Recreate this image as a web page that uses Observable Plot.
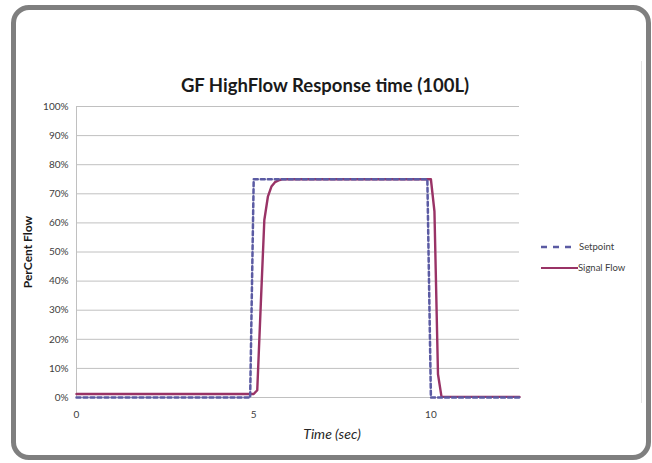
<!DOCTYPE html>
<html>
<head>
<meta charset="utf-8">
<script src="https://cdn.jsdelivr.net/npm/d3@7"></script>
<script src="https://cdn.jsdelivr.net/npm/@observablehq/plot@0.6"></script>
<style>
  html, body { margin: 0; padding: 0; background: #ffffff; }
  #wrap { position: relative; width: 652px; height: 463px; overflow: hidden; font-family: Lato, "Open Sans", sans-serif; }
  #frame { position: absolute; left: 11px; top: 5px; width: 630px; height: 445px; border: 5px solid #7f7f7f; border-radius: 18px; background: #fff; }
  #inner { position: absolute; left: 641px; top: 61px; width: 1px; height: 342px; background: #e4e4e4; }
  #chart { position: absolute; left: 0; top: 0; }
  .leg { position: absolute; font-size: 9.5px; color: #404040; line-height: 12px; white-space: nowrap; }
  .leg svg { position: absolute; left: 0; top: 0; }
</style>
</head>
<body>
<div id="wrap">
  <div id="frame"></div>
  <div id="inner"></div>
  <div id="chart"></div>
  <div class="leg" style="left:540px; top:241px;"><svg width="36" height="12"><line x1="1" x2="33" y1="6" y2="6" stroke="#5b5ba3" stroke-width="2.5" stroke-dasharray="6,6"/></svg><span style="margin-left:39px">Setpoint</span></div>
  <div class="leg" style="left:541px; top:262px;"><svg width="38" height="12"><line x1="0" x2="37" y1="6" y2="6" stroke="#993366" stroke-width="2"/></svg><span style="margin-left:37px">Signal Flow</span></div>
</div>
<script>
// Setpoint series (time in seconds, percent flow)
const setpointTime  = [0, 4.9, 5.0, 9.9, 10.0, 12.5];
const setpointValue = [0, 0, 75, 75, 0, 0];

// Signal Flow series
const signalTime  = [0, 5.0, 5.1, 5.2, 5.3, 5.4, 5.5, 5.6, 5.7, 5.8, 10.0, 10.1, 10.2, 10.3, 12.5];
const signalValue = [1.2, 1.2, 2.5, 32, 61, 69, 72.5, 74, 74.6, 75, 75, 64, 8, 0.2, 0.2];

// Axis ticks
const xTicks = [0, 5, 10];
const yTicks = [0, 10, 20, 30, 40, 50, 60, 70, 80, 90, 100];

const setpoint = setpointTime.map((t, i) => ({t, v: setpointValue[i]}));
const signal = signalTime.map((t, i) => ({t, v: signalValue[i]}));

const chart = Plot.plot({
  width: 652,
  height: 463,
  marginLeft: 76,
  marginRight: 133,
  marginTop: 106,
  marginBottom: 66,
  style: {fontFamily: "Lato, 'Open Sans', sans-serif", fontSize: "10px", color: "#404040", background: "transparent"},
  x: {domain: [0, 12.5], ticks: xTicks, tickSize: 0, tickPadding: 12, label: null},
  y: {domain: [0, 100], ticks: yTicks, tickSize: 0, tickPadding: 8, tickFormat: d => d + "%", label: null},
  marks: [
    Plot.gridY(yTicks, {stroke: "#c0c0c0", strokeOpacity: 1, strokeWidth: 1}),
    Plot.ruleX([0], {stroke: "#c0c0c0", strokeWidth: 1}),
    Plot.axisX(xTicks, {tickSize: 0, tickPadding: 13, fill: "#404040", fontSize: 10, label: null}),
    Plot.axisY(yTicks, {tickSize: 0, tickPadding: 8, tickFormat: d => d + "%", fill: "#404040", fontSize: 10, label: null}),
    Plot.line(signal, {x: "t", y: "v", stroke: "#993366", strokeWidth: 2.4}),
    Plot.line(setpoint, {x: "t", y: "v", stroke: "#5b5ba3", strokeWidth: 2.5, strokeDasharray: "4,3"}),
    Plot.text(["GF HighFlow Response time (100L)"], {frameAnchor: "top", dy: -15, dx: 27, fontSize: 18.5, fontWeight: "bold", fill: "#1a1a1a", lineAnchor: "bottom"}),
    Plot.text(["PerCent Flow"], {frameAnchor: "left", textAnchor: "middle", dx: -48, rotate: -90, fontSize: 12, fontWeight: "bold", fill: "#1a1a1a"}),
    Plot.text(["Time (sec)"], {frameAnchor: "bottom", dy: 41, dx: 34, fontSize: 14, fontStyle: "italic", fill: "#262626"})
  ]
});
document.getElementById("chart").appendChild(chart);
</script>
</body>
</html>
